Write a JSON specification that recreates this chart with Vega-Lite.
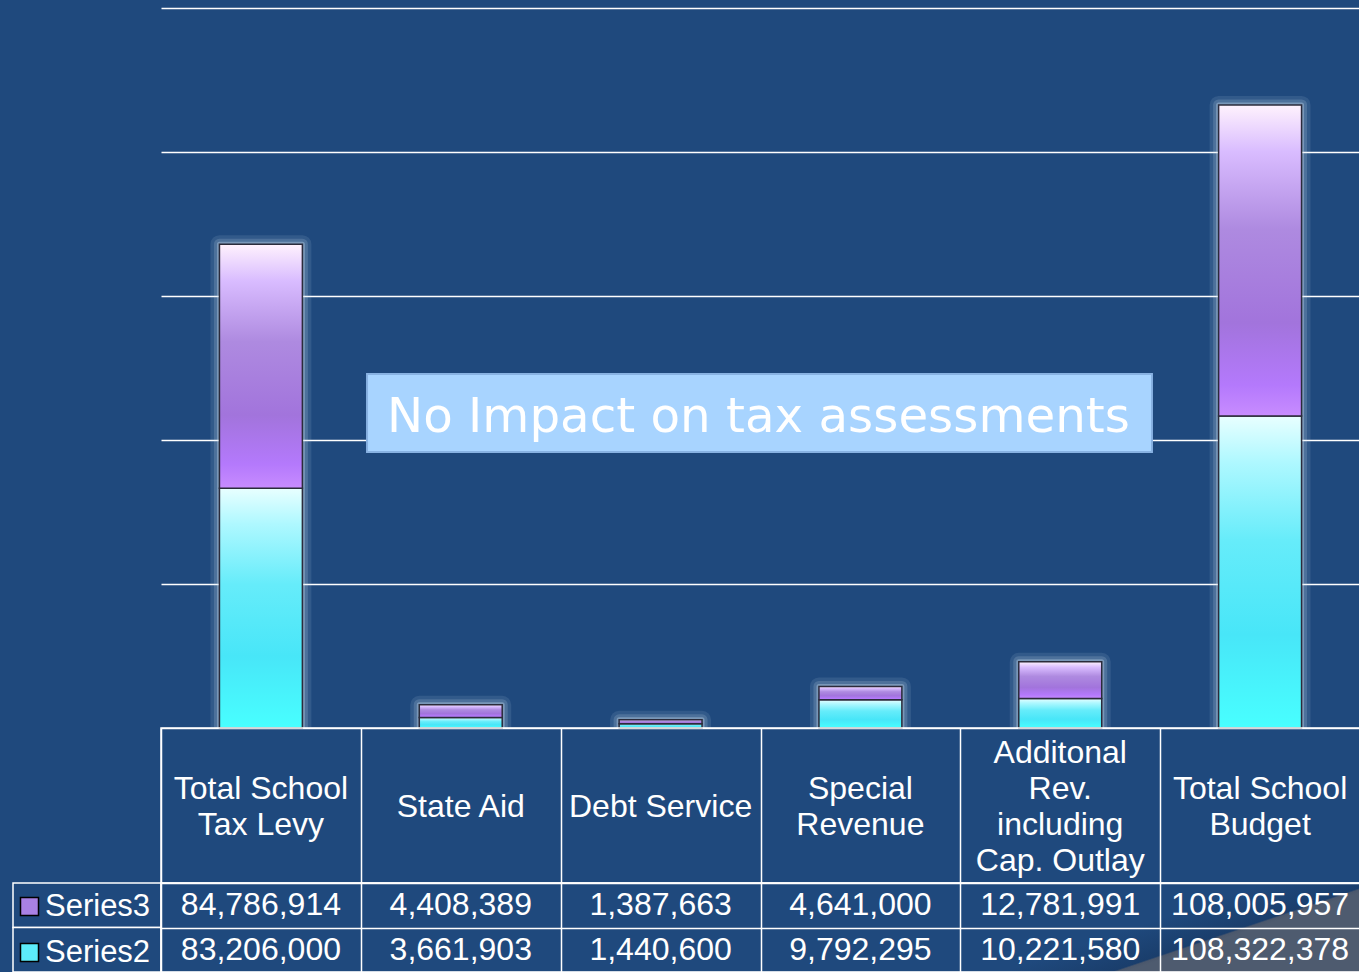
{
  "$schema": "https://vega.github.io/schema/vega-lite/v6.json",
  "background": "#1F497D",
  "padding": {"left": 12, "top": 8, "right": 0, "bottom": 0},
  "autosize": {"type": "pad"},
  "config": {"view": {"stroke": null}, "font": "Liberation Sans"},
  "datasets": {
    "budget": [
      {"category": "Total School Tax Levy", "series": "Series3", "value": 84786914},
      {"category": "Total School Tax Levy", "series": "Series2", "value": 83206000},
      {"category": "State Aid", "series": "Series3", "value": 4408389},
      {"category": "State Aid", "series": "Series2", "value": 3661903},
      {"category": "Debt Service", "series": "Series3", "value": 1387663},
      {"category": "Debt Service", "series": "Series2", "value": 1440600},
      {"category": "Special Revenue", "series": "Series3", "value": 4641000},
      {"category": "Special Revenue", "series": "Series2", "value": 9792295},
      {"category": "Additonal Rev. including Cap. Outlay", "series": "Series3", "value": 12781991},
      {"category": "Additonal Rev. including Cap. Outlay", "series": "Series2", "value": 10221580},
      {"category": "Total School Budget", "series": "Series3", "value": 108005957},
      {"category": "Total School Budget", "series": "Series2", "value": 108322378}
    ],
    "headers": [
      {"category": "Total School Tax Levy", "label": "Total School\nTax Levy"},
      {"category": "State Aid", "label": "State Aid"},
      {"category": "Debt Service", "label": "Debt Service"},
      {"category": "Special Revenue", "label": "Special\nRevenue"},
      {"category": "Additonal Rev. including Cap. Outlay", "label": "Additonal\nRev.\nincluding\nCap. Outlay"},
      {"category": "Total School Budget", "label": "Total School\nBudget"}
    ]
  },
  "columns": 2,
  "spacing": 0,
  "bounds": "flush",
  "resolve": {"scale": {"fill": "independent"}, "legend": {"fill": "independent"}},
  "concat": [
    {
      "width": 148, "height": 720,
      "data": {"values": []},
      "mark": "point",
      "encoding": {}
    },
    {
      "width": 1199, "height": 720,
      "data": {"name": "budget"},
      "layer": [
        {
          "mark": {"type": "bar", "width": {"band": 0.415}, "fillOpacity": 0, "stroke": "#d6e6f4", "strokeWidth": 18, "strokeOpacity": 0.11, "strokeJoin": "round", "clip": true},
          "encoding": {
            "x": {"field": "category", "type": "nominal", "scale": {"type": "band", "domain": ["Total School Tax Levy", "State Aid", "Debt Service", "Special Revenue", "Additonal Rev. including Cap. Outlay", "Total School Budget"], "paddingInner": 0, "paddingOuter": 0}, "axis": null},
            "y": {"aggregate": "sum", "field": "value", "type": "quantitative", "stack": null, "scale": {"domain": [0, 250000000], "nice": false}, "axis": {"values": [0, 50000000, 100000000, 150000000, 200000000, 250000000], "grid": true, "gridColor": "white", "gridWidth": 1.5, "gridOpacity": 1, "labels": false, "ticks": false, "domain": false, "title": null}}
          }
        },
        {
          "mark": {"type": "bar", "width": {"band": 0.415}, "fillOpacity": 0, "stroke": "#d6e6f4", "strokeWidth": 11, "strokeOpacity": 0.17, "strokeJoin": "round", "clip": true},
          "encoding": {
            "x": {"field": "category", "type": "nominal", "scale": {"type": "band", "domain": ["Total School Tax Levy", "State Aid", "Debt Service", "Special Revenue", "Additonal Rev. including Cap. Outlay", "Total School Budget"], "paddingInner": 0, "paddingOuter": 0}, "axis": null},
            "y": {"aggregate": "sum", "field": "value", "type": "quantitative", "stack": null}
          }
        },
        {
          "mark": {"type": "bar", "width": {"band": 0.415}, "fillOpacity": 0, "stroke": "#d6e6f4", "strokeWidth": 5, "strokeOpacity": 0.33, "strokeJoin": "round", "clip": true},
          "encoding": {
            "x": {"field": "category", "type": "nominal", "scale": {"type": "band", "domain": ["Total School Tax Levy", "State Aid", "Debt Service", "Special Revenue", "Additonal Rev. including Cap. Outlay", "Total School Budget"], "paddingInner": 0, "paddingOuter": 0}, "axis": null},
            "y": {"aggregate": "sum", "field": "value", "type": "quantitative", "stack": null}
          }
        },
        {
          "transform": [
            {"stack": "value", "groupby": ["category"], "sort": [{"field": "series", "order": "ascending"}], "as": ["v0", "v1"]},
            {"filter": "datum.series === 'Series2'"}
          ],
          "mark": {"type": "bar", "width": {"band": 0.415}, "stroke": "#2b2b3b", "strokeWidth": 1.5,
            "fill": {"gradient": "linear", "x1": 0, "y1": 0, "x2": 0, "y2": 1, "stops": [
              {"offset": 0, "color": "#e8ffff"},
              {"offset": 0.15, "color": "#aef8ff"},
              {"offset": 0.4, "color": "#66ecfa"},
              {"offset": 0.7, "color": "#48e6f8"},
              {"offset": 1, "color": "#48ffff"}
            ]}},
          "encoding": {
            "x": {"field": "category", "type": "nominal", "scale": {"type": "band", "domain": ["Total School Tax Levy", "State Aid", "Debt Service", "Special Revenue", "Additonal Rev. including Cap. Outlay", "Total School Budget"], "paddingInner": 0, "paddingOuter": 0}, "axis": null},
            "y": {"field": "v1", "type": "quantitative"},
            "y2": {"field": "v0"}
          }
        },
        {
          "transform": [
            {"stack": "value", "groupby": ["category"], "sort": [{"field": "series", "order": "ascending"}], "as": ["v0", "v1"]},
            {"filter": "datum.series === 'Series3'"}
          ],
          "mark": {"type": "bar", "width": {"band": 0.415}, "stroke": "#2b2b3b", "strokeWidth": 1.5,
            "fill": {"gradient": "linear", "x1": 0, "y1": 0, "x2": 0, "y2": 1, "stops": [
              {"offset": 0, "color": "#fff2fd"},
              {"offset": 0.15, "color": "#d9bcff"},
              {"offset": 0.4, "color": "#ae8ae0"},
              {"offset": 0.7, "color": "#a274dc"},
              {"offset": 0.9, "color": "#b479fc"},
              {"offset": 1, "color": "#c88cff"}
            ]}},
          "encoding": {
            "x": {"field": "category", "type": "nominal", "scale": {"type": "band", "domain": ["Total School Tax Levy", "State Aid", "Debt Service", "Special Revenue", "Additonal Rev. including Cap. Outlay", "Total School Budget"], "paddingInner": 0, "paddingOuter": 0}, "axis": null},
            "y": {"field": "v1", "type": "quantitative"},
            "y2": {"field": "v0"}
          }
        },
        {
          "data": {"values": [{"note": "No Impact on tax assessments"}]},
          "mark": {"type": "rect", "fill": "#A8D4FF", "stroke": "#88B2E2", "strokeWidth": 2},
          "encoding": {
            "x": {"datum": 1.031, "type": "quantitative", "scale": {"domain": [0, 6], "nice": false, "zero": false}, "axis": null},
            "x2": {"datum": 4.959},
            "y": {"datum": 122900000, "type": "quantitative"},
            "y2": {"datum": 95800000}
          }
        },
        {
          "data": {"values": [{"note": "No Impact on tax assessments"}]},
          "mark": {"type": "text", "font": "DejaVu Sans", "fontSize": 48.3, "color": "white", "align": "center", "baseline": "alphabetic"},
          "encoding": {
            "x": {"datum": 2.99, "type": "quantitative", "scale": {"domain": [0, 6], "nice": false, "zero": false}, "axis": null},
            "y": {"datum": 102780000, "type": "quantitative"},
            "text": {"field": "note"}
          }
        }
      ],
      "resolve": {"scale": {"x": "independent"}}
    },
    {
      "width": 148, "height": 155,
      "data": {"values": []},
      "mark": "point",
      "encoding": {}
    },
    {
      "width": 1199, "height": 155,
      "data": {"name": "headers"},
      "view": {"stroke": "white", "strokeWidth": 1.5},
      "mark": {"type": "text", "lineBreak": "\n", "fontSize": 32, "lineHeight": 36.3, "color": "white", "baseline": "middle", "align": "center", "font": "Liberation Sans",
        "dy": {"expr": "1.5 - (length(split(datum.label, '\\n')) - 1) * 18.15"}},
      "encoding": {
        "x": {"field": "category", "type": "nominal", "scale": {"type": "band", "domain": ["Total School Tax Levy", "State Aid", "Debt Service", "Special Revenue", "Additonal Rev. including Cap. Outlay", "Total School Budget"], "paddingInner": 0, "paddingOuter": 0}, "axis": {"grid": true, "tickBand": "extent", "gridColor": "white", "gridWidth": 1.5, "gridOpacity": 1, "labels": false, "ticks": false, "domain": false, "title": null}},
        "text": {"field": "label"}
      }
    },
    {
      "width": 148, "height": 89,
      "data": {"name": "budget"},
      "transform": [{"aggregate": [{"op": "count", "as": "n"}], "groupby": ["series"]}],
      "layer": [
        {
          "mark": {"type": "rect"},
          "encoding": {
            "y": {"field": "series", "type": "nominal", "scale": {"type": "band", "domain": ["Series3", "Series2"], "paddingInner": 0, "paddingOuter": 0}, "axis": null},
            "fill": {"field": "series", "type": "nominal", "scale": {"domain": ["Series3", "Series2"], "range": ["#A981E4", "#5CECFA"]},
              "legend": {"orient": "none", "legendX": 1, "legendY": 8, "title": null, "symbolType": "square", "symbolSize": 324, "symbolStrokeColor": "black", "symbolStrokeWidth": 1.5, "symbolOpacity": 1, "labelFontSize": 31, "labelColor": "white", "labelFont": "Liberation Sans", "labelOffset": 0, "rowPadding": 14, "padding": 0, "labelLimit": 300}}
          }
        },
        {
          "mark": {"type": "rect", "fill": "#1F497D", "stroke": "white", "strokeWidth": 1.5},
          "encoding": {
            "y": {"field": "series", "type": "nominal", "scale": {"type": "band", "domain": ["Series3", "Series2"], "paddingInner": 0, "paddingOuter": 0}, "axis": null}
          }
        }
      ]
    },
    {
      "width": 1199, "height": 89,
      "data": {"name": "budget"},
      "view": {"stroke": "white", "strokeWidth": 1.5,
        "fill": {"gradient": "linear", "x1": 0, "y1": 0, "x2": 0.9767, "y2": 0.2149, "stops": [
          {"offset": 0, "color": "#1F497D"},
          {"offset": 0.9, "color": "#1F497D"},
          {"offset": 0.988, "color": "#1a3e6c"},
          {"offset": 0.992, "color": "#4a576c"},
          {"offset": 1, "color": "#4e5b6f"}
        ]}},
      "mark": {"type": "text", "fontSize": 32, "color": "white", "baseline": "middle", "align": "center", "font": "Liberation Sans"},
      "encoding": {
        "x": {"field": "category", "type": "nominal", "scale": {"type": "band", "domain": ["Total School Tax Levy", "State Aid", "Debt Service", "Special Revenue", "Additonal Rev. including Cap. Outlay", "Total School Budget"], "paddingInner": 0, "paddingOuter": 0}, "axis": {"grid": true, "tickBand": "extent", "gridColor": "white", "gridWidth": 1.5, "gridOpacity": 1, "labels": false, "ticks": false, "domain": false, "title": null}},
        "y": {"field": "series", "type": "nominal", "scale": {"type": "band", "domain": ["Series3", "Series2"], "paddingInner": 0, "paddingOuter": 0}, "axis": {"grid": true, "tickBand": "extent", "gridColor": "white", "gridWidth": 1.5, "gridOpacity": 1, "labels": false, "ticks": false, "domain": false, "title": null}},
        "text": {"field": "value", "type": "quantitative", "format": ",d"}
      }
    }
  ]
}
